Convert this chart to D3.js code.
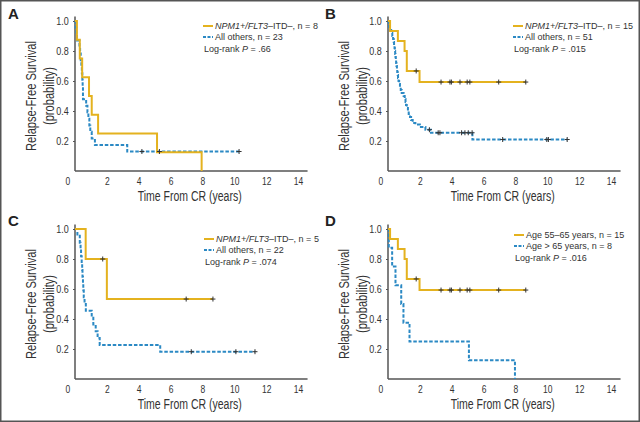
<!DOCTYPE html>
<meta charset="utf-8">
<style>
body { margin: 0; background: #fff; }
svg { display: block; }
text { font-family: "Liberation Sans", Arial, sans-serif; fill: #333; }
.title { font-size: 14px; }
.legend { font-size: 9px; }
.letter { font-weight: bold; font-size: 15px; fill: #222; }
</style>
<svg width="640" height="422"></svg>
<script src="https://d3js.org/d3.v7.min.js"></script>
<script>

// --- data (years, survival probability) ---
var xTicks = [0, 2, 4, 6, 8, 10, 12, 14];
var yTicks = [0.2, 0.4, 0.6, 0.8, 1.0];

// Panel A
var aNpmTimes = [0, 0.12, 0.3, 0.45, 0.88, 1.05, 1.45, 5.15, 7.95];
var aNpmSurv  = [1, 0.875, 0.75, 0.625, 0.5, 0.375, 0.25, 0.125, 0];
var aNpmCensor = [];
var aOthTimes = [0, 0.04, 0.08, 0.12, 0.28, 0.32, 0.36, 0.4, 0.43, 0.46, 0.48, 0.5, 0.7, 0.78, 0.84, 0.9, 0.96, 1.05, 1.25, 3.28];
var aOthSurv  = [1, 0.957, 0.913, 0.870, 0.826, 0.783, 0.739, 0.696, 0.652, 0.609, 0.565, 0.478, 0.435, 0.391, 0.348, 0.304, 0.261, 0.217, 0.174, 0.130];
var aOthCensor = [4.2, 5.3, 10.3];

// Panel B
var bNpmTimes = [0, 0.13, 0.62, 1.04, 1.18, 1.98];
var bNpmSurv  = [1, 0.933, 0.867, 0.8, 0.667, 0.593];
var bNpmCensor = [1.77, 3.33, 3.89, 3.98, 4.52, 4.97, 5.14, 6.95, 8.65];
var bOthTimes = [0, 0.04, 0.08, 0.12, 0.2, 0.27, 0.32, 0.36, 0.38, 0.41, 0.43, 0.45, 0.47, 0.49, 0.51, 0.53, 0.56, 0.58, 0.61, 0.63, 0.66, 0.7, 0.75, 0.8, 0.86, 0.98, 1.05, 1.1, 1.13, 1.18, 1.25, 1.3, 1.38, 1.45, 1.55, 1.72, 2.0, 2.35, 2.7, 5.3];
var bOthSurv  = [1, 0.98, 0.96, 0.94, 0.92, 0.90, 0.88, 0.86, 0.84, 0.82, 0.80, 0.78, 0.76, 0.74, 0.72, 0.70, 0.68, 0.66, 0.64, 0.62, 0.60, 0.58, 0.56, 0.54, 0.52, 0.50, 0.48, 0.46, 0.44, 0.42, 0.40, 0.38, 0.36, 0.34, 0.32, 0.31, 0.294, 0.275, 0.255, 0.21];
var bOthCensor = [2.6, 3.15, 3.26, 4.62, 4.83, 5.04, 5.28, 7.2, 9.97, 10.07, 11.25];

// Panel C
var cNpmTimes = [0, 0.67, 2.0];
var cNpmSurv  = [1, 0.8, 0.533];
var cNpmCensor = [1.74, 6.98, 8.66];
var cOthTimes = [0, 0.15, 0.3, 0.35, 0.38, 0.42, 0.45, 0.47, 0.5, 0.52, 0.55, 0.6, 0.68, 1.05, 1.15, 1.3, 1.42, 1.55, 5.35];
var cOthSurv  = [1, 0.955, 0.909, 0.864, 0.818, 0.773, 0.727, 0.682, 0.636, 0.591, 0.545, 0.5, 0.455, 0.409, 0.364, 0.318, 0.273, 0.227, 0.182];
var cOthCensor = [7.3, 10.1, 11.3];

// Panel D
var dYoungTimes = [0, 0.13, 0.62, 1.04, 1.18, 1.98];
var dYoungSurv  = [1, 0.933, 0.867, 0.8, 0.667, 0.593];
var dYoungCensor = [1.77, 3.33, 3.89, 3.98, 4.52, 4.97, 5.14, 6.95, 8.65];
var dOldTimes = [0, 0.05, 0.26, 0.47, 0.83, 0.97, 1.35, 5.08, 7.97];
var dOldSurv  = [1, 0.875, 0.75, 0.625, 0.5, 0.375, 0.25, 0.125, 0];
var dOldCensor = [];

var gold = "#e4b21f", blue = "#2b89c4";

var svg = d3.select("svg");
svg.append("rect").attr("x", 0.75).attr("y", 0.75).attr("width", 638.5).attr("height", 420.5)
    .attr("fill", "#fff").attr("stroke", "#555").attr("stroke-width", 1.5);

var npmLabel = [["NPM1+/FLT3", true], ["–ITD–, n = ", false]];

var panels = [
  {letter: "A", lx: 8, ly: 19, ox: 75, oy: 21, legX: 203, legY: 26,
   curves: [[aNpmTimes, aNpmSurv, aNpmCensor], [aOthTimes, aOthSurv, aOthCensor]],
   labels: [npmLabel.concat([["8", false]]), [["All others, n = 23", false]]], p: ".66"},
  {letter: "B", lx: 325, ly: 19, ox: 388, oy: 21, legX: 513, legY: 26,
   curves: [[bNpmTimes, bNpmSurv, bNpmCensor], [bOthTimes, bOthSurv, bOthCensor]],
   labels: [npmLabel.concat([["15", false]]), [["All others, n = 51", false]]], p: ".015"},
  {letter: "C", lx: 8, ly: 226, ox: 75, oy: 229, legX: 204, legY: 239,
   curves: [[cNpmTimes, cNpmSurv, cNpmCensor], [cOthTimes, cOthSurv, cOthCensor]],
   labels: [npmLabel.concat([["5", false]]), [["All others, n = 22", false]]], p: ".074"},
  {letter: "D", lx: 325, ly: 226, ox: 388, oy: 229, legX: 514, legY: 235,
   curves: [[dYoungTimes, dYoungSurv, dYoungCensor], [dOldTimes, dOldSurv, dOldCensor]],
   labels: [[["Age 55–65 years, n = 15", false]], [["Age > 65 years, n = 8", false]]], p: ".016"}
];

var x = d3.scaleLinear().domain([0, 14]).range([0, 223]);
var y = d3.scaleLinear().domain([0, 1]).range([150, 0]);

var step = d3.line()
    .x(function(d) { return x(d[0]); })
    .y(function(d) { return y(d[1]); })
    .curve(d3.curveStepAfter);

function survAt(times, surv, t) {
  var i = d3.bisectRight(times, t) - 1;
  return surv[Math.max(i, 0)];
}

panels.forEach(function(p) {
  svg.append("text").attr("class", "letter").attr("x", p.lx).attr("y", p.ly).text(p.letter);

  var g = svg.append("g").attr("transform", "translate(" + p.ox + "," + p.oy + ")");

  // axes
  var yAxis = g.append("g").call(d3.axisLeft(y).tickValues(yTicks).tickSize(2).tickPadding(5).tickFormat(d3.format(".1f")));
  var xAxis = g.append("g").attr("transform", "translate(0," + y(0) + ")")
      .call(d3.axisBottom(x).tickValues(xTicks).tickSize(0).tickPadding(7));
  [xAxis, yAxis].forEach(function(a) {
    a.select(".domain").remove();
    a.selectAll("line").attr("stroke", "#555");
    a.selectAll("text").attr("fill", "#444").style("font-size", "10px")
        .attr("font-family", "Liberation Sans, Arial, sans-serif");
  });
  xAxis.selectAll("text").attr("transform", "scale(0.85,1)");
  yAxis.selectAll("text").attr("transform", "scale(0.9,1)");
  xAxis.selectAll(".tick").filter(function(d) { return d === 0; }).select("text").attr("dx", -9);
  g.append("line").attr("x1", 0).attr("x2", 0).attr("y1", y(0)).attr("y2", y(1.03))
      .attr("stroke", "#555").attr("stroke-width", 1.5);
  g.append("line").attr("x1", 0).attr("x2", x(14.6)).attr("y1", y(0)).attr("y2", y(0))
      .attr("stroke", "#555").attr("stroke-width", 1.5);

  g.append("text").attr("class", "title").attr("text-anchor", "middle")
      .attr("x", x(7.2)).attr("y", y(0) + 30)
      .attr("textLength", 104).attr("lengthAdjust", "spacingAndGlyphs")
      .text("Time From CR (years)");
  var yt = g.append("g").attr("transform", "translate(-39," + y(0.5) + ") rotate(-90)");
  yt.append("text").attr("class", "title").attr("text-anchor", "middle").attr("x", 0).attr("y", 0)
      .attr("textLength", 110).attr("lengthAdjust", "spacingAndGlyphs")
      .text("Relapse-Free Survival");
  yt.append("text").attr("class", "title").attr("text-anchor", "middle").attr("x", 0).attr("y", 18)
      .attr("textLength", 58).attr("lengthAdjust", "spacingAndGlyphs")
      .text("(probability)");

  // curves: draw others (blue dashed) first, gold on top
  [1, 0].forEach(function(k) {
    var c = p.curves[k];
    var pts = c[0].map(function(t, i) { return [t, c[1][i]]; });
    var last = c[1][c[1].length - 1];
    var end = c[2].length ? d3.max(c[2]) : c[0][c[0].length - 1];
    if (last > 0) pts.push([end, last]);
    g.append("path").attr("d", step(pts)).attr("fill", "none")
        .attr("stroke", k === 0 ? gold : blue).attr("stroke-width", 2)
        .attr("stroke-dasharray", k === 0 ? null : "3.5,1.8");
  });
  p.curves.forEach(function(c) {
    g.selectAll(null).data(c[2]).enter().append("path")
        .attr("transform", function(t) { return "translate(" + x(t) + "," + y(survAt(c[0], c[1], t)) + ")"; })
        .attr("d", "M-2.5,0H2.5M0,-2.5V2.5")
        .attr("stroke", "#333").attr("stroke-width", 1);
  });

  // legend
  var lg = svg.append("g").attr("transform", "translate(" + p.legX + "," + p.legY + ")");
  [0, 1].forEach(function(k) {
    var yy = k * 11;
    lg.append("line").attr("x1", 0).attr("x2", 10).attr("y1", yy).attr("y2", yy)
        .attr("stroke", k === 0 ? gold : blue).attr("stroke-width", 2)
        .attr("stroke-dasharray", k === 0 ? null : "3,1.5");
    var t = lg.append("text").attr("class", "legend").attr("x", 12).attr("y", yy + 3);
    p.labels[k].forEach(function(s) {
      t.append("tspan").style("font-style", s[1] ? "italic" : "normal").text(s[0]);
    });
  });
  var lr = lg.append("text").attr("class", "legend").attr("x", 1).attr("y", 26);
  lr.append("tspan").text("Log-rank ");
  lr.append("tspan").style("font-style", "italic").text("P");
  lr.append("tspan").text(" = " + p.p);
});

</script>
